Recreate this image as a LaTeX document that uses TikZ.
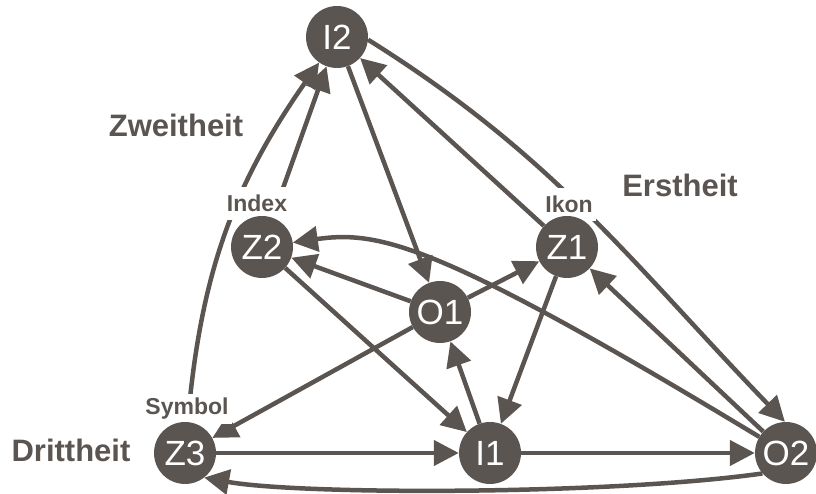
\documentclass[tikz,border=0pt]{standalone}
\usepackage{fontspec}
\setmainfont{Liberation Sans}
\usepackage{tikz}
\usetikzlibrary{arrows.meta,backgrounds}
\definecolor{signgrey}{RGB}{91,85,82}

\begin{document}
\begin{tikzpicture}[x=1pt, y=1pt,
  sign/.style={circle, fill=signgrey, text=white, minimum size=62pt, inner sep=0pt, font=\fontsize{35}{35}\selectfont},
  kind/.style={fill=white, text=signgrey, inner xsep=3pt, inner ysep=8pt, anchor=base, font=\bfseries\fontsize{23}{23}\selectfont},
  level/.style={text=signgrey, anchor=base, font=\bfseries\fontsize{31}{31}\selectfont},
  rel/.style={draw=signgrey, line width=4.5pt, -{Triangle[length=25pt,width=25pt]}}]
\useasboundingbox (0,0) rectangle (816,494);
\node[kind] (index) at (257,282) {Index};
\node[kind] (ikon) at (569,281) {Ikon};
\node[kind, inner ysep=4pt] (symbol) at (187,79) {Symbol};
\node[level] (zweit) at (176,357) {Zweitheit};
\node[level] (erst) at (680,297) {Erstheit};
\node[level] (dritt) at (71,32) {Drittheit};
\node[sign] (I2) at (337,457) {I2};
\node[sign] (Z2) at (262,247) {Z2};
\node[sign] (Z1) at (567,247) {Z1};
\node[sign] (O1) at (440,182) {O1};
\node[sign] (Z3) at (185,41) {Z3};
\node[sign] (I1) at (490,41) {I1};
\node[sign] (O2) at (786,41) {O2};
\begin{scope}[on background layer]
\draw[rel] (Z3) to[out=85, in=235] (I2);
\draw[rel] (Z2) -- (I2);
\draw[rel] (I2) -- (O1);
\draw[rel] (Z1) -- (I2);
\draw[rel] (I2.-5) to[out=-32, in=134] (O2.92);
\draw[rel] (O2) .. controls (440,250) and (380,264) .. (Z2);
\draw[rel] (O1) -- (Z2);
\draw[rel] (O1) -- (Z1);
\draw[rel] (O1) -- (Z3);
\draw[rel] (Z2) -- (I1);
\draw[rel] (I1) -- (O1);
\draw[rel] (Z1) -- (I1);
\draw[rel] (Z3) -- (I1);
\draw[rel] (I1) -- (O2);
\draw[rel] (O2) -- (Z1);
\draw[rel] (O2.221) .. controls (610,-1) and (300,-1) .. (Z3.-52);
\end{scope}
\end{tikzpicture}
\end{document}
